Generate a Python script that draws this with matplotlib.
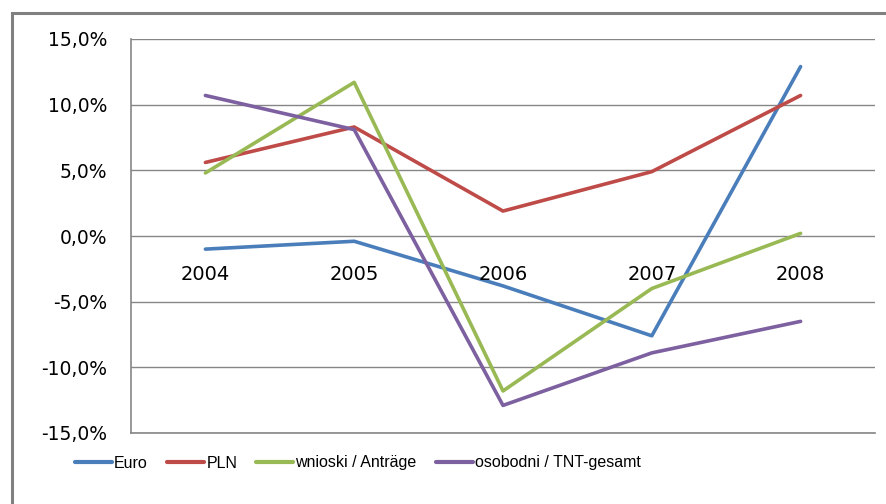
import numpy as np
import matplotlib.pyplot as plt
from matplotlib.patches import Rectangle
from matplotlib.ticker import FuncFormatter

years = ['2004', '2005', '2006', '2007', '2008']
euro = [-1.0, -0.4, -3.8, -7.6, 12.9]
pln = [5.6, 8.3, 1.9, 4.9, 10.7]
wnioski = [4.8, 11.7, -11.8, -4.0, 0.2]
osobodni = [10.7, 8.1, -12.9, -8.9, -6.5]

labels = ['Euro', 'PLN', 'wnioski / Anträge', 'osobodni / TNT-gesamt']
colors = ['#4A7EBB', '#BE4B48', '#98B954', '#7D60A0']

W, H = 887, 504
fig = plt.figure(figsize=(W / 100, H / 100), dpi=100)
fig.patch.set_facecolor('white')

# outer chart frame (partly cut off by the picture edge)
fig.patches.append(Rectangle((12 / W, -0.1), 1.2, (H - 13) / H + 0.1, transform=fig.transFigure,
                             fill=False, edgecolor='#808080', linewidth=2.2))

ax = fig.add_axes([131 / W, (H - 433) / H, 744 / W, 394 / H])
x = np.arange(len(years))
for series, lab, col in zip([euro, pln, wnioski, osobodni], labels, colors):
    ax.plot(x, series, color=col, linewidth=2.6, label=lab, solid_capstyle='round')

ax.set_xlim(-0.5, len(years) - 0.5)
ax.set_ylim(-15, 15)
ax.set_yticks(np.arange(-15, 16, 5))
ax.yaxis.set_major_formatter(FuncFormatter(lambda v, p: ('%.1f%%' % v).replace('.', ',')))
ax.set_xticks([])
ax.tick_params(axis='y', length=0, pad=17, labelsize=13.5)
ax.grid(axis='y', color='#868686', linewidth=1)
ax.set_axisbelow(True)
for s in ['top', 'right']:
    ax.spines[s].set_visible(False)
for s in ['left', 'bottom']:
    ax.spines[s].set_color('#868686')
    ax.spines[s].set_linewidth(1.2)

# category labels sit next to the zero line
for i, y in enumerate(years):
    ax.text(i, -2.9, y, ha='center', va='center', fontsize=14)

leg = fig.legend(loc='center', bbox_to_anchor=(358 / W, 1 - 463 / H), ncol=4, frameon=False,
                 prop={'family': 'Liberation Sans', 'size': 11.5},
                 handlelength=2.3, handletextpad=0.15, columnspacing=1.2)
for h in leg.legend_handles:
    h.set_linewidth(3)

fig.savefig('out.png', dpi=100)
